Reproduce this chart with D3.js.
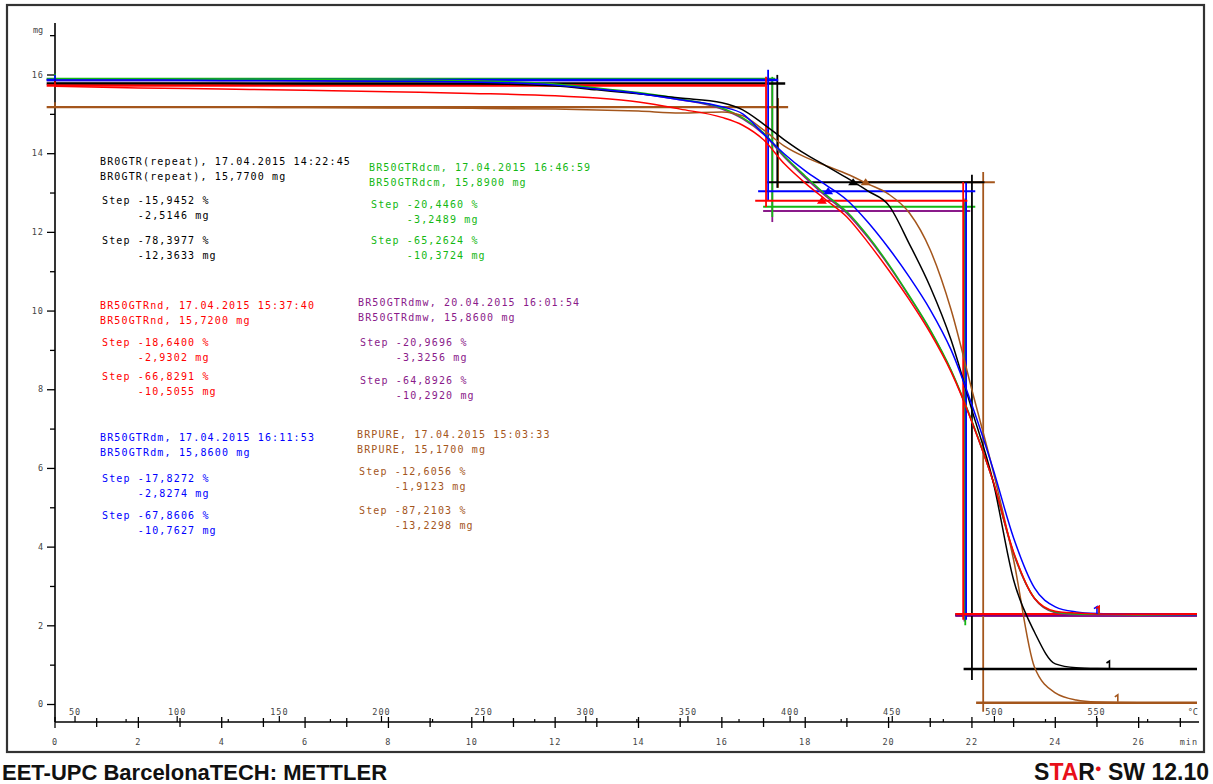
<!DOCTYPE html>
<html>
<head>
<meta charset="utf-8">
<script src="https://cdn.jsdelivr.net/npm/d3@7"></script>
<style>
  body { margin: 0; background: #fff; }
  .mono { font-family: "DejaVu Sans Mono", monospace; white-space: pre; }
</style>
</head>
<body>
<div id="chartcontainer"></div>
<script>
// time axis (min) shared by all curves
var times = [0, 2, 4, 6, 8, 10, 12, 13, 14, 15, 16, 16.5, 17, 17.5, 18, 18.5, 19, 19.5, 20, 20.5,
             21, 21.5, 22, 22.5, 23, 23.5, 24, 24.5, 25, 26, 27.4];

// mass (mg)
var massBlack  = [15.77, 15.77, 15.77, 15.76, 15.76, 15.76, 15.71, 15.61, 15.51, 15.40, 15.28, 15.10, 14.74, 14.34, 13.98, 13.68, 13.37, 13.04, 12.68, 11.69,
                  10.60, 9.25, 7.47, 5.69, 3.15, 1.83, 1.02, 0.92, 0.90, 0.89, 0.89];
var massGreen  = [15.89, 15.89, 15.88, 15.87, 15.86, 15.84, 15.76, 15.66, 15.54, 15.38, 15.15, 14.90, 14.52, 13.93, 13.42, 12.94, 12.51, 11.90, 11.18, 10.37,
                  9.51, 8.49, 7.19, 5.69, 3.84, 2.69, 2.34, 2.29, 2.28, 2.27, 2.27];
var massRed    = [15.70, 15.66, 15.63, 15.60, 15.56, 15.52, 15.46, 15.40, 15.30, 15.12, 14.91, 14.71, 14.34, 13.73, 13.24, 12.81, 12.38, 11.74, 11.03, 10.27,
                  9.43, 8.44, 7.17, 5.69, 3.86, 2.69, 2.36, 2.31, 2.29, 2.28, 2.28];
var massPurple = [15.86, 15.86, 15.85, 15.84, 15.83, 15.81, 15.74, 15.64, 15.52, 15.36, 15.12, 14.87, 14.48, 13.90, 13.38, 12.90, 12.47, 11.86, 11.15, 10.35,
                  9.49, 8.47, 7.17, 5.68, 3.82, 2.68, 2.32, 2.26, 2.25, 2.24, 2.24];
var massBlue   = [15.86, 15.86, 15.85, 15.84, 15.83, 15.81, 15.73, 15.63, 15.52, 15.36, 15.18, 15.00, 14.49, 13.98, 13.55, 13.19, 12.81, 12.25, 11.59, 10.85,
                  10.02, 9.00, 7.60, 6.00, 4.22, 2.95, 2.47, 2.34, 2.30, 2.28, 2.27];
var massBrown  = [15.17, 15.17, 15.17, 15.16, 15.15, 15.14, 15.12, 15.10, 15.07, 15.02, 15.05, 14.95, 14.59, 14.18, 13.90, 13.68, 13.47, 13.22, 12.96, 12.48,
                  11.54, 10.02, 7.98, 5.95, 3.66, 0.94, 0.28, 0.10, 0.05, 0.03, 0.03];

// order: black, green, red, purple, blue, brown
var seriesNames = ["BR0GTR(repeat)", "BR50GTRdcm", "BR50GTRnd", "BR50GTRdmw", "BR50GTRdm", "BRPURE"];
var runDates    = ["17.04.2015 14:22:45", "17.04.2015 16:46:59", "17.04.2015 15:37:40", "20.04.2015 16:01:54", "17.04.2015 16:11:53", "17.04.2015 15:03:33"];
var sampleMass  = ["15,7700", "15,8900", "15,7200", "15,8600", "15,8600", "15,1700"];
var step1Pct    = ["-15,9452", "-20,4460", "-18,6400", "-20,9696", "-17,8272", "-12,6056"];
var step1Mg     = ["-2,5146", "-3,2489", "-2,9302", "-3,3256", "-2,8274", "-1,9123"];
var step2Pct    = ["-78,3977", "-65,2624", "-66,8291", "-64,8926", "-67,8606", "-87,2103"];
var step2Mg     = ["-12,3633", "-10,3724", "-10,5055", "-10,2920", "-10,7627", "-13,2298"];

// step evaluation levels (mg) and times (min)
var levelUpper  = [15.77, 15.89, 15.72, 15.86, 15.86, 15.17];
var levelMiddle = [13.26, 12.64, 12.79, 12.53, 13.03, 13.26];
var levelLower  = [0.89, 2.27, 2.28, 2.24, 2.27, 0.03];
var upperEnd    = [17.52, 17.28, 17.04, 17.20, 17.35, 17.59];
var middleSpan  = [[17.09, 22.30], [16.99, 22.08], [16.80, 21.89], [16.99, 21.96], [16.87, 22.08], [19.10, 22.55]];
var lowerStart  = [21.80, 21.60, 21.60, 21.60, 21.60, 22.10];
var step1Time   = [17.33, 17.21, 17.06, 17.21, 17.11, 17.35];
var step2Time   = [22.00, 21.84, 21.79, 21.82, 21.86, 22.27];
var step1Range  = [[15.99, 13.12], [15.94, 12.38], [15.94, 12.63], [15.90, 12.25], [16.12, 12.81], [15.40, 13.12]];
var step2Range  = [[13.45, 0.61], [12.85, 2.00], [13.27, 2.14], [12.75, 2.10], [13.25, 2.14], [13.52, -0.20]];
var midMarkTime = [19.15, null, 18.40, null, 18.55, 19.45];
var endMarkTime = [25.30, 25.05, 25.05, null, 25.00, 25.50];

var yTicksMajor = [0, 2, 4, 6, 8, 10, 12, 14, 16];
var yTicksMinor = [1, 3, 5, 7, 9, 11, 13, 15, 17];
var timeTicks = d3.range(0, 28, 1);
var timeLabels = d3.range(0, 27, 2);
var tempLabels = [50, 100, 150, 200, 250, 300, 350, 400, 450, 500, 550];
var tempStart = 40.2, tempRate = 20.4;   // degC, degC/min

var colors = ["#000000", "#13b813", "#ff0000", "#8a1a8a", "#0000ff", "#a4561c"];
var drawOrder = [3, 1, 5, 0, 4, 2];
var masses = [massBlack, massGreen, massRed, massPurple, massBlue, massBrown];

// text block layout
var blockX = [100, 369, 100, 358, 100, 357];
var blockY = [161, 167, 305, 302, 437, 434];
var blockStepDy = [[39, 79], [37, 73], [37, 71], [40, 78], [41, 78], [37, 76]];

var width = 1213, height = 784;

var x = d3.scaleLinear().domain([0, 27.4]).range([55, 1197]);
var y = d3.scaleLinear().domain([0, 16]).range([704, 74.5]);

function tempX(T) { return x((T - tempStart) / tempRate); }

var svg = d3.select("#chartcontainer").append("svg")
  .attr("width", width)
  .attr("height", height);

// outer frame
svg.append("rect")
  .attr("x", 7).attr("y", 5).attr("width", 1197).attr("height", 747)
  .attr("fill", "none").attr("stroke", "#333").attr("stroke-width", 2.2);

var g = {
  add: function(id) { this[id] = svg.append("g").attr("id", id); }
};
g.add("axes");
g.add("steps");
g.add("curves");
g.add("marks");
g.add("texts");

// y axis
g.axes.append("line")
  .attr("x1", 55).attr("x2", 55).attr("y1", 23).attr("y2", 722)
  .attr("stroke", "#000").attr("stroke-width", 1.6);

var yMajor = g.axes.append("g")
  .attr("transform", "translate(55,0)")
  .call(d3.axisLeft(y).tickValues(yTicksMajor).tickSize(8).tickPadding(3).tickFormat(d3.format("d")));
var yMinor = g.axes.append("g")
  .attr("transform", "translate(55,0)")
  .call(d3.axisLeft(y).tickValues(yTicksMinor).tickSize(5).tickFormat(""));
[yMajor, yMinor].forEach(function(a) {
  a.select(".domain").remove();
  a.selectAll("line").attr("stroke", "#000").attr("stroke-width", 1.3);
});
yMajor.selectAll("text")
  .attr("class", "mono")
  .style("font-size", "8.5px")
  .attr("fill", "#444")
  .attr("letter-spacing", "1px");

g.axes.append("text")
  .attr("class", "mono")
  .attr("x", 33).attr("y", 33)
  .style("font-size", "8.5px").attr("fill", "#444")
  .text("mg");

// time axis
g.axes.append("line")
  .attr("x1", 55).attr("x2", 1199).attr("y1", 722).attr("y2", 722)
  .attr("stroke", "#000").attr("stroke-width", 1.6);

g.axes.selectAll("line.tt")
  .data(timeTicks)
  .enter().append("line")
  .attr("class", "tt")
  .attr("x1", function(d) { return x(d); })
  .attr("x2", function(d) { return x(d); })
  .attr("y1", function(d) { return d % 2 === 0 ? 717 : 718; })
  .attr("y2", function(d) { return d % 2 === 0 ? 728 : 727; })
  .attr("stroke", "#000").attr("stroke-width", 1.3);

g.axes.selectAll("text.tl")
  .data(timeLabels)
  .enter().append("text")
  .attr("class", "mono tl")
  .attr("x", function(d) { return x(d); })
  .attr("y", 745)
  .attr("text-anchor", "middle")
  .style("font-size", "8.5px").attr("fill", "#444")
  .attr("letter-spacing", "1px")
  .text(function(d) { return d; });

g.axes.append("text")
  .attr("class", "mono")
  .attr("x", 1198).attr("y", 745)
  .attr("text-anchor", "end")
  .style("font-size", "8.5px").attr("fill", "#444")
  .attr("letter-spacing", "1px")
  .text("min");

// temperature ticks and labels above the time axis
g.axes.selectAll("line.tp")
  .data(d3.range(50, 576, 25))
  .enter().append("line")
  .attr("class", "tp")
  .attr("x1", function(d) { return tempX(d); })
  .attr("x2", function(d) { return tempX(d); })
  .attr("y1", function(d) { return d % 50 === 0 ? 716 : 719; })
  .attr("y2", 722)
  .attr("stroke", "#000").attr("stroke-width", 1.2);

g.axes.selectAll("text.tpl")
  .data(tempLabels)
  .enter().append("text")
  .attr("class", "mono tpl")
  .attr("x", function(d) { return tempX(d); })
  .attr("y", 715)
  .attr("text-anchor", "middle")
  .style("font-size", "8.5px").attr("fill", "#444")
  .attr("letter-spacing", "1px")
  .text(function(d) { return d; });

g.axes.append("text")
  .attr("class", "mono")
  .attr("x", 1198).attr("y", 715)
  .attr("text-anchor", "end")
  .style("font-size", "8.5px").attr("fill", "#444")
  .text("\u00B0C");

// step evaluation lines
var hline = function(sel, i, t0, t1, m, w) {
  sel.append("line")
    .attr("x1", x(t0)).attr("x2", x(t1))
    .attr("y1", y(m)).attr("y2", y(m))
    .attr("stroke", colors[i]).attr("stroke-width", w);
};
var vline = function(sel, i, t, m0, m1, w) {
  sel.append("line")
    .attr("x1", x(t)).attr("x2", x(t))
    .attr("y1", y(m0)).attr("y2", y(m1))
    .attr("stroke", colors[i]).attr("stroke-width", w);
};

drawOrder.forEach(function(i) {
  var s = g.steps.append("g");
  hline(s, i, -0.2, upperEnd[i], levelUpper[i], 2.4);
  hline(s, i, middleSpan[i][0], middleSpan[i][1], levelMiddle[i], 2);
  hline(s, i, lowerStart[i], 27.4, levelLower[i], 2.4);
  vline(s, i, step1Time[i], step1Range[i][0], step1Range[i][1], 1.8);
  vline(s, i, step2Time[i], step2Range[i][0], step2Range[i][1], 1.8);
});

// curves
var line = d3.line()
  .x(function(d) { return x(d[0]); })
  .y(function(d) { return y(d[1]); })
  .curve(d3.curveMonotoneX);

g.curves.selectAll("path")
  .data(drawOrder)
  .enter().append("path")
  .attr("d", function(i) { return line(d3.zip(times, masses[i])); })
  .attr("fill", "none")
  .attr("stroke", function(i) { return colors[i]; })
  .attr("stroke-width", 1.5);

// little markers where the curves meet the plateau lines
function massAt(i, t) {
  return d3.scaleLinear().domain(times).range(masses[i])(t);
}

drawOrder.forEach(function(i) {
  if (midMarkTime[i] !== null) {
    var px = x(midMarkTime[i]), py = y(levelMiddle[i]);
    g.marks.append("path")
      .attr("d", "M" + (px - 5) + "," + (py + 3) + "L" + px + "," + (py - 4) + "L" + (px + 5) + "," + (py + 3) + "Z")
      .attr("fill", colors[i]);
  }
  if (endMarkTime[i] !== null) {
    var ex = x(endMarkTime[i]), ey = y(levelLower[i]);
    g.marks.append("path")
      .attr("d", "M" + ex + "," + (ey - 1) + "L" + ex + "," + (ey - 8) + "L" + (ex - 3) + "," + (ey - 6))
      .attr("fill", "none")
      .attr("stroke", colors[i]).attr("stroke-width", 1.6);
  }
  g.marks.append("line")
    .attr("x1", x(0)).attr("x2", x(0))
    .attr("y1", y(massAt(i, 0)) - 5).attr("y2", y(massAt(i, 0)) + 1)
    .attr("stroke", colors[i]).attr("stroke-width", 1.6);
});

// result texts
seriesNames.forEach(function(name, i) {
  var bx = blockX[i], by = blockY[i];
  var lines = [
    [0, 0, name + ", " + runDates[i]],
    [0, 15, name + ", " + sampleMass[i] + " mg"],
    [2, blockStepDy[i][0], "Step " + step1Pct[i] + " %"],
    [2, blockStepDy[i][0] + 15, "     " + step1Mg[i] + " mg"],
    [2, blockStepDy[i][1], "Step " + step2Pct[i] + " %"],
    [2, blockStepDy[i][1] + 15, "     " + step2Mg[i] + " mg"]
  ];
  g.texts.selectAll("text.b" + i)
    .data(lines)
    .enter().append("text")
    .attr("class", "mono b" + i)
    .attr("x", function(d) { return bx + d[0]; })
    .attr("y", function(d) { return by + d[1] + 4; })
    .attr("fill", colors[i])
    .attr("letter-spacing", "1.15px")
    .style("font-size", "10px")
    .text(function(d) { return d[2]; });
});

// footer
svg.append("text")
  .attr("x", 2).attr("y", 780)
  .style("font-family", "'Liberation Sans', Arial, sans-serif")
  .style("font-weight", "bold")
  .style("font-size", "22px")
  .attr("fill", "#111")
  .text("EET-UPC BarcelonaTECH: METTLER");

var star = svg.append("text")
  .attr("x", 1209).attr("y", 780)
  .attr("text-anchor", "end")
  .style("font-family", "'Liberation Sans', Arial, sans-serif")
  .style("font-weight", "bold")
  .style("font-size", "23px")
  .attr("fill", "#111");
star.append("tspan").text("S");
star.append("tspan").attr("fill", "#e8101a").text("TA");
star.append("tspan").text("R");
star.append("tspan").attr("fill", "#e8101a").attr("dy", -8).style("font-size", "11px").text("\u25CF");
star.append("tspan").attr("dy", 8).text(" SW 12.10");
</script>
</body>
</html>
